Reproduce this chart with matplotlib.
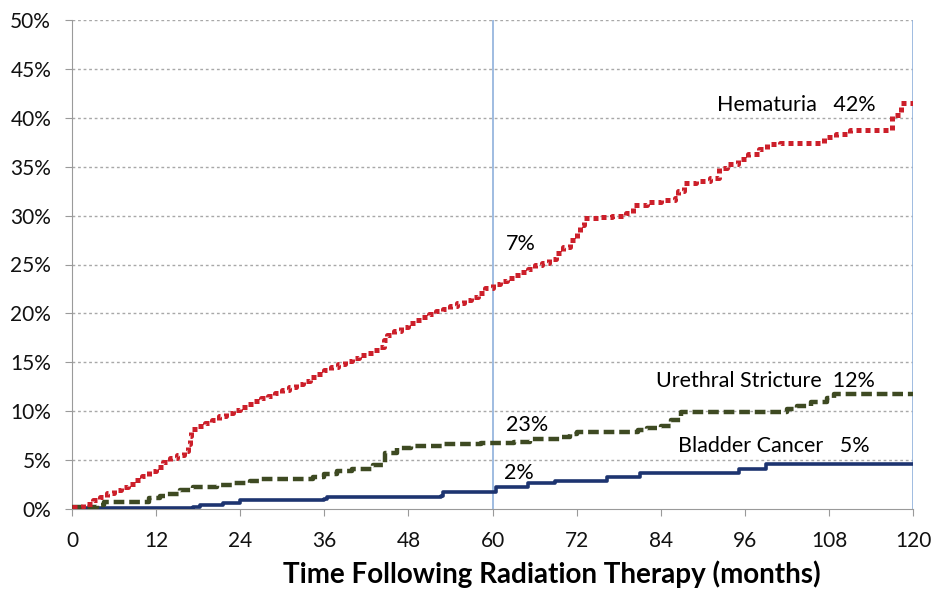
import matplotlib.pyplot as plt

plt.rcParams["font.family"] = ["Lato", "DejaVu Sans"]

# step change points (months, cumulative %)
hema_months = [0, 1.5, 3, 4, 5, 6, 7, 8, 9, 10, 11, 12, 13, 14, 15, 16, 16.5, 16.8, 17, 18,
               19, 20, 21, 22, 23, 24, 25, 26, 27, 28, 29, 30, 31, 32, 33, 34, 35, 36, 37, 38,
               39, 40, 41, 42, 43, 44, 44.5, 45, 46, 47, 48, 49, 50, 51, 52, 53, 54, 55, 56, 57,
               58, 59, 60, 61, 62, 63, 64, 65, 66, 67, 68, 69, 70, 71, 72, 72.5, 73, 75, 77, 79,
               80, 82, 84, 86, 86.5, 87.3, 89, 91, 92.3, 93.5, 95, 96.5, 98, 99.2, 101, 107.3,
               109, 111, 117, 118.3, 120]
hema_pct = [0.2, 0.5, 0.9, 1.2, 1.6, 1.9, 2.3, 2.6, 3.0, 3.4, 3.9, 4.3, 4.8, 5.2, 5.5, 5.9, 6.6,
            7.5, 8.2, 8.5, 8.8, 9.1, 9.5, 9.8, 10.1, 10.4, 10.7, 11.0, 11.3, 11.6, 11.9, 12.2,
            12.5, 12.8, 13.1, 13.5, 13.8, 14.2, 14.5, 14.8, 15.1, 15.4, 15.7, 16.0, 16.3, 16.6,
            17.3, 17.8, 18.2, 18.6, 19.0, 19.3, 19.6, 19.9, 20.2, 20.5, 20.8, 21.1, 21.4, 21.7,
            22.1, 22.6, 23.0, 23.3, 23.6, 23.9, 24.2, 24.5, 24.9, 25.2, 25.6, 26.2, 26.8, 27.5,
            28.2, 29.0, 29.8, 29.9, 30.0, 30.3, 31.1, 31.4, 31.6, 31.8, 32.5, 33.3, 33.5, 33.8,
            34.9, 35.3, 35.8, 36.3, 36.8, 37.3, 37.4, 38.0, 38.3, 38.8, 40.3, 41.5, 41.7]

ure_months = [0, 3.5, 4.5, 9.7, 11, 12.5, 13.5, 15.4, 17.3, 20.7, 23, 25.4, 26.9, 34.4, 36,
              37.8, 40, 43, 44.7, 46.4, 48.3, 53, 58.3, 63, 65.4, 69.7, 71, 72.1, 80.7, 82.1,
              84, 85.4, 86.9, 102, 103.5, 105.4, 107.8, 108.7, 120]
ure_pct = [0.2, 0.4, 0.75, 0.75, 1.1, 1.3, 1.5, 1.9, 2.3, 2.5, 2.7, 2.9, 3.1, 3.3, 3.6, 3.9,
           4.1, 4.5, 5.7, 6.2, 6.4, 6.6, 6.7, 6.9, 7.2, 7.4, 7.7, 7.9, 8.1, 8.3, 8.5, 9.1, 9.9,
           10.2, 10.5, 10.9, 11.4, 11.8, 11.8]

blad_months = [0, 17.3, 18.3, 21.6, 24, 35.9, 36.4, 52.6, 53, 60.5, 65, 68.9, 76.4, 81.1,
               95.2, 99, 120]
blad_pct = [0.1, 0.25, 0.4, 0.6, 0.9, 1.0, 1.25, 1.3, 1.7, 2.3, 2.7, 2.9, 3.3, 3.7, 4.1, 4.6,
            4.6]

x_ticks = [0, 12, 24, 36, 48, 60, 72, 84, 96, 108, 120]
y_ticks = [0, 5, 10, 15, 20, 25, 30, 35, 40, 45, 50]

GRAY = "#9a9a9a"
BLUE_LINE = "#8fb0dc"

fig = plt.figure(figsize=(9.32, 5.91), dpi=100)
ax = fig.add_axes([72 / 932, 82 / 591, 841 / 932, 489 / 591])

for y in y_ticks[1:]:
    ax.axhline(y, color="#a8a8a8", linewidth=1.0, linestyle=(0, (2, 2)), zorder=1)
ax.axvline(60, color=BLUE_LINE, linewidth=1.2, zorder=1)
ax.axvline(120, color=BLUE_LINE, linewidth=1.2, zorder=1)

ax.step(blad_months, blad_pct, where="post", color="#1d3470", linewidth=2.6, zorder=3)
ax.step(ure_months, ure_pct, where="post", color="#3e4a22", linewidth=3.2,
        linestyle=(0, (2.4, 1.1)), zorder=3)
ax.step(hema_months, hema_pct, where="post", color="#cc1f2a", linewidth=3.6,
        linestyle=(0, (1, 0.8)), zorder=4)

ax.set_xlim(0, 120)
ax.set_ylim(0, 50)
ax.set_xticks(x_ticks)
ax.set_yticks(y_ticks)
ax.set_yticklabels([f"{v}%" for v in y_ticks])
ax.tick_params(axis="both", colors=GRAY, labelcolor="#111111", labelsize=15, length=5)
ax.tick_params(axis="y", pad=10)
ax.tick_params(axis="x", pad=11)
ax.spines[["top", "right"]].set_visible(False)
ax.spines["left"].set_color(GRAY)
ax.spines["bottom"].set_color(GRAY)

ax.text(92.1, 41.3, "Hematuria   42%", fontsize=15.5, va="center")
ax.text(83.3, 13.1, "Urethral Stricture  12%", fontsize=15.5, va="center")
ax.text(86.4, 6.4, "Bladder Cancer   5%", fontsize=15.5, va="center")
ax.text(61.9, 27.1, "7%", fontsize=15.5, va="center")
ax.text(61.9, 8.6, "23%", fontsize=15.5, va="center")
ax.text(61.6, 3.7, "2%", fontsize=15.5, va="center")

fig.text(552 / 932, 1 - 574 / 591, "Time Following Radiation Therapy (months)",
         fontsize=20, fontweight="bold", ha="center", va="center")

fig.savefig("out.png", dpi=100)
